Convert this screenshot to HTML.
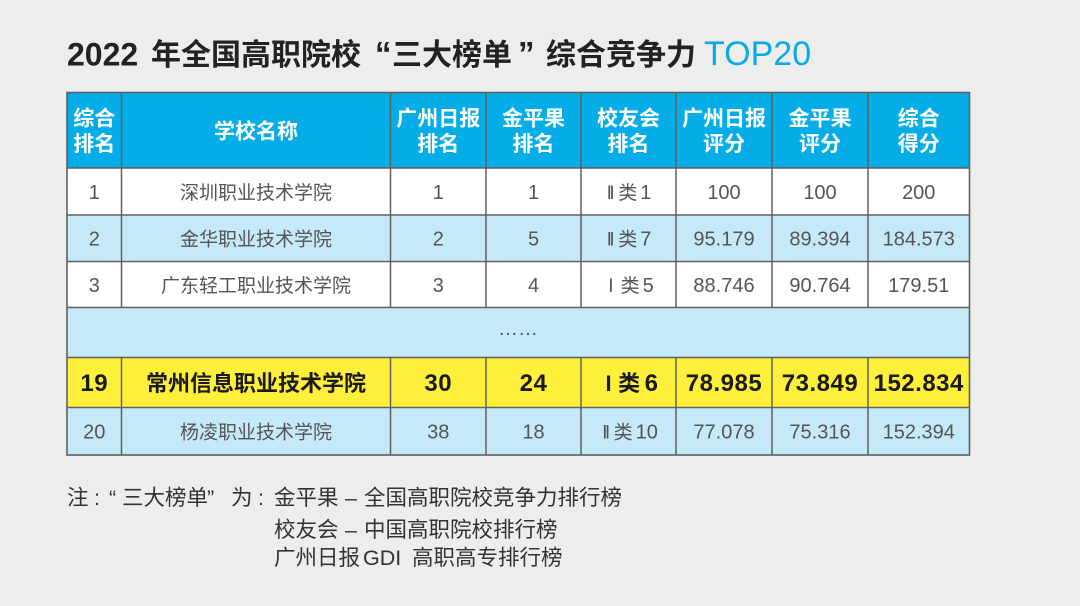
<!DOCTYPE html>
<html><head><meta charset="utf-8">
<style>
html,body{margin:0;padding:0;background:#edeeec;}
svg{display:block;}
.cjk{font-family:"Liberation Sans","Noto Sans CJK SC",sans-serif;}
.h{font-family:"Liberation Sans","Noto Sans CJK SC",sans-serif;font-size:21px;font-weight:700;fill:#fff;}
.b{font-family:"Liberation Sans","Noto Sans CJK SC",sans-serif;font-size:20px;fill:#555;}
.bc{font-family:"Liberation Sans","Noto Sans CJK SC",sans-serif;font-size:19px;fill:#555;}
.y{font-family:"Liberation Sans","Noto Sans CJK SC",sans-serif;font-size:24px;font-weight:700;fill:#1a1a1a;letter-spacing:0.5px;}
.yc{font-family:"Liberation Sans","Noto Sans CJK SC",sans-serif;font-size:22px;font-weight:700;fill:#1a1a1a;}
.n{font-family:"Liberation Sans","Noto Sans CJK SC",sans-serif;font-size:21.5px;fill:#333;}
</style></head>
<body>
<svg width="1080" height="606" viewBox="0 0 1080 606" xmlns="http://www.w3.org/2000/svg">
<rect x="0" y="0" width="1080" height="606" fill="#edeeec"/>

<!-- Title -->
<text x="67" y="65.5" font-family="Liberation Sans, sans-serif" font-size="32" font-weight="700" fill="#222">2022</text>
<text x="151" y="65" class="cjk" font-size="30" font-weight="700" fill="#222">年全国高职院校</text>
<text x="375" y="65" font-family="Liberation Sans, sans-serif" font-size="33" font-weight="700" fill="#222">“</text>
<text x="392" y="65" class="cjk" font-size="30" font-weight="700" fill="#222">三大榜单</text>
<text x="518" y="65" font-family="Liberation Sans, sans-serif" font-size="33" font-weight="700" fill="#222">”</text>
<text x="546" y="65" class="cjk" font-size="30" font-weight="700" fill="#222">综合竞争力</text>
<text x="704" y="65" font-family="Liberation Sans, sans-serif" font-size="34" fill="#0aaae6">TOP20</text>

<!-- Row fills -->
<rect x="67" y="92.5" width="902.5" height="75.5" fill="#04ade8"/>
<rect x="67" y="168" width="902.5" height="47" fill="#ffffff"/>
<rect x="67" y="215" width="902.5" height="46.5" fill="#c5e9f8"/>
<rect x="67" y="261.5" width="902.5" height="46" fill="#ffffff"/>
<rect x="67" y="307.5" width="902.5" height="50" fill="#c5e9f8"/>
<rect x="67" y="357.5" width="902.5" height="50" fill="#fef03a"/>
<rect x="67" y="407.5" width="902.5" height="47.5" fill="#c5e9f8"/>

<!-- Grid lines -->
<g stroke="#606060" stroke-width="1.5" fill="none">
  <line x1="67" y1="168" x2="969.5" y2="168"/>
  <line x1="67" y1="215" x2="969.5" y2="215"/>
  <line x1="67" y1="261.5" x2="969.5" y2="261.5"/>
  <line x1="67" y1="307.5" x2="969.5" y2="307.5"/>
  <line x1="67" y1="357.5" x2="969.5" y2="357.5"/>
  <line x1="67" y1="407.5" x2="969.5" y2="407.5"/>
  <path d="M121.5 92.5V307.5M390.5 92.5V307.5M486 92.5V307.5M581 92.5V307.5M676 92.5V307.5M772 92.5V307.5M868 92.5V307.5"/>
  <path d="M121.5 357.5V455M390.5 357.5V455M486 357.5V455M581 357.5V455M676 357.5V455M772 357.5V455M868 357.5V455"/>
  <rect x="67" y="92.5" width="902.5" height="362.5" stroke="#606060" stroke-width="1.6"/>
</g>

<!-- Header text -->
<g class="h" text-anchor="middle">
  <text x="94.25" y="125.5">综合</text><text x="94.25" y="151">排名</text>
  <text x="256" y="138.5">学校名称</text>
  <text x="438.25" y="125.5">广州日报</text><text x="438.25" y="151">排名</text>
  <text x="533.5" y="125.5">金平果</text><text x="533.5" y="151">排名</text>
  <text x="628.5" y="125.5">校友会</text><text x="628.5" y="151">排名</text>
  <text x="724" y="125.5">广州日报</text><text x="724" y="151">评分</text>
  <text x="820" y="125.5">金平果</text><text x="820" y="151">评分</text>
  <text x="918.75" y="125.5">综合</text><text x="918.75" y="151">得分</text>
</g>

<!-- Row 1 -->
<g text-anchor="middle">
  <text class="b" x="94.25" y="199">1</text>
  <text class="bc" x="256" y="199">深圳职业技术学院</text>
  <text class="b" x="438.25" y="199">1</text>
  <text class="b" x="533.5" y="199">1</text>
  <text class="b" x="629" y="199"><tspan font-size="19" letter-spacing="-2.5">II</tspan><tspan dx="6" font-size="19">类</tspan><tspan dx="3">1</tspan></text>
  <text class="b" x="724" y="199">100</text>
  <text class="b" x="820" y="199">100</text>
  <text class="b" x="918.75" y="199">200</text>
</g>
<!-- Row 2 -->
<g text-anchor="middle">
  <text class="b" x="94.25" y="245.5">2</text>
  <text class="bc" x="256" y="245.5">金华职业技术学院</text>
  <text class="b" x="438.25" y="245.5">2</text>
  <text class="b" x="533.5" y="245.5">5</text>
  <text class="b" x="629" y="245.5"><tspan font-size="19" letter-spacing="-2.5">II</tspan><tspan dx="6" font-size="19">类</tspan><tspan dx="3">7</tspan></text>
  <text class="b" x="724" y="245.5">95.179</text>
  <text class="b" x="820" y="245.5">89.394</text>
  <text class="b" x="918.75" y="245.5">184.573</text>
</g>
<!-- Row 3 -->
<g text-anchor="middle">
  <text class="b" x="94.25" y="292">3</text>
  <text class="bc" x="256" y="292">广东轻工职业技术学院</text>
  <text class="b" x="438.25" y="292">3</text>
  <text class="b" x="533.5" y="292">4</text>
  <text class="b" x="631" y="292"><tspan font-size="19">I</tspan><tspan dx="7" font-size="19">类</tspan><tspan dx="3">5</tspan></text>
  <text class="b" x="724" y="292">88.746</text>
  <text class="b" x="820" y="292">90.764</text>
  <text class="b" x="918.75" y="292">179.51</text>
</g>
<!-- Dots -->
<text class="b" x="518" y="335" text-anchor="middle" font-size="20">……</text>
<!-- Row 19 -->
<g text-anchor="middle">
  <text class="y" x="94.25" y="391">19</text>
  <text class="yc" x="256" y="391">常州信息职业技术学院</text>
  <text class="y" x="438.25" y="391">30</text>
  <text class="y" x="533.5" y="391">24</text>
  <text class="y" x="632" y="391"><tspan font-size="22">I</tspan><tspan dx="6" font-size="22">类</tspan><tspan dx="4">6</tspan></text>
  <text class="y" x="724" y="391">78.985</text>
  <text class="y" x="820" y="391">73.849</text>
  <text class="y" x="918.75" y="391">152.834</text>
</g>
<!-- Row 20 -->
<g text-anchor="middle">
  <text class="b" x="94.25" y="438.5">20</text>
  <text class="bc" x="256" y="438.5">杨凌职业技术学院</text>
  <text class="b" x="438.25" y="438.5">38</text>
  <text class="b" x="533.5" y="438.5">18</text>
  <text class="b" x="630" y="438.5"><tspan font-size="19" letter-spacing="-2.5">II</tspan><tspan dx="6" font-size="19">类</tspan><tspan dx="3">10</tspan></text>
  <text class="b" x="724" y="438.5">77.078</text>
  <text class="b" x="820" y="438.5">75.316</text>
  <text class="b" x="918.75" y="438.5">152.394</text>
</g>

<!-- Footnote -->
<text class="n" x="67" y="505">注</text>
<text class="n" x="94" y="505">:</text>
<text class="n" x="109" y="505">“</text>
<text class="n" x="122" y="505">三大榜单</text>
<text class="n" x="207" y="505">”</text>
<text class="n" x="231" y="505">为</text>
<text class="n" x="258" y="505">:</text>
<text class="n" x="274" y="505">金平果</text>
<text class="n" x="345" y="505">–</text>
<text class="n" x="364" y="505">全国高职院校竞争力排行榜</text>

<text class="n" x="274" y="537">校友会</text>
<text class="n" x="345" y="537">–</text>
<text class="n" x="364" y="537">中国高职院校排行榜</text>

<text class="n" x="274" y="565">广州日报</text>
<text class="n" x="363" y="565">GDI</text>
<text class="n" x="412" y="565">高职高专排行榜</text>
</svg>
</body></html>
